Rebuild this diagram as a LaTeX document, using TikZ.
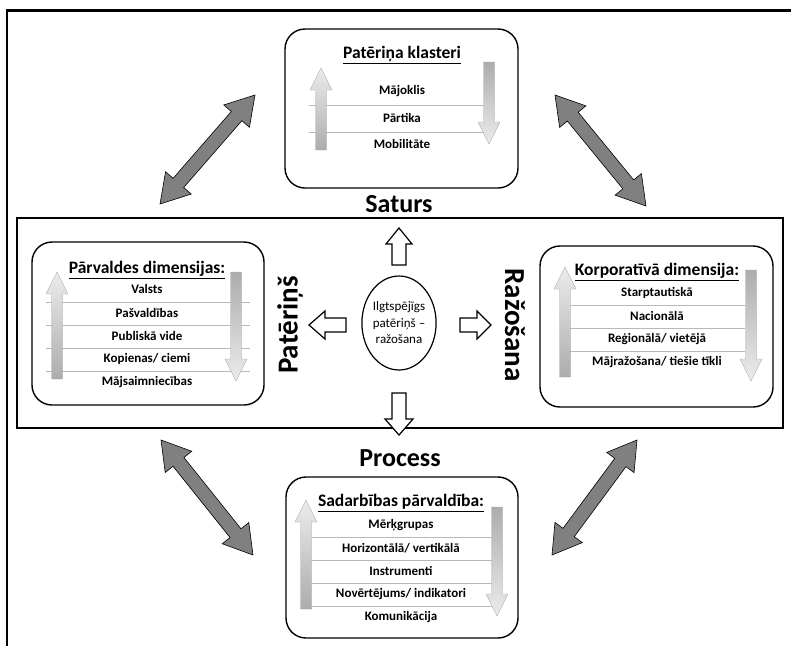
\documentclass[tikz,border=0pt]{standalone}
\usepackage{fontspec}
\setmainfont{Carlito}
\usetikzlibrary{calc,shapes.geometric}

% Block arrow from #1 (tail) to #2 (tip): shaft half width, head half width, head length, style
\newcommand\BlockArrow[6]{%
  \path[#6] ($(#1)!#3!90:(#2)$) -- ($(#2)!#5!(#1)!#3!-90:(#1)$)
    -- ($(#2)!#5!(#1)!#4!-90:(#1)$) -- (#2)
    -- ($(#2)!#5!(#1)!#4!90:(#1)$) -- ($(#2)!#5!(#1)!#3!90:(#1)$)
    -- ($(#1)!#3!-90:(#2)$) -- cycle;}
% Two-headed block arrow between #1 and #2
\newcommand\TwinArrow[6]{%
  \path[#6] (#1) -- ($(#1)!#5!(#2)!#4!90:(#2)$) -- ($(#1)!#5!(#2)!#3!90:(#2)$)
    -- ($(#2)!#5!(#1)!#3!-90:(#1)$) -- ($(#2)!#5!(#1)!#4!-90:(#1)$) -- (#2)
    -- ($(#2)!#5!(#1)!#4!90:(#1)$) -- ($(#2)!#5!(#1)!#3!90:(#1)$)
    -- ($(#1)!#5!(#2)!#3!-90:(#2)$) -- ($(#1)!#5!(#2)!#4!-90:(#2)$) -- cycle;}
% Shaded vertical arrows inside the boxes: x, tail y, tip y
\newcommand\GradUp[3]{%
  \shadedraw[gradup] (#1-5.5,#2) -- (#1-5.5,#3+22) -- (#1-11,#3+22) -- (#1,#3)
    -- (#1+11,#3+22) -- (#1+5.5,#3+22) -- (#1+5.5,#2) -- cycle;}
\newcommand\GradDown[3]{%
  \shadedraw[graddown] (#1-5.5,#2) -- (#1-5.5,#3-22) -- (#1-11,#3-22) -- (#1,#3)
    -- (#1+11,#3-22) -- (#1+5.5,#3-22) -- (#1+5.5,#2) -- cycle;}

\begin{document}
\begin{tikzpicture}[x=1pt,y=-1pt,
  box/.style={draw,line width=1.4pt,rounded corners=20pt,inner sep=0pt},
  heading/.style={font=\bfseries\fontsize{17.5}{20}\selectfont,inner sep=0pt},
  item/.style={font=\bfseries\fontsize{13}{15}\selectfont,inner sep=0pt},
  sepline/.style={draw=gray!55,line width=0.5pt},
  big/.style={font=\bfseries\fontsize{26}{30}\selectfont,inner sep=0pt},
  side/.style={font=\bfseries\fontsize{29}{32}\selectfont,inner sep=0pt},
  gradup/.style={top color=gray!15,bottom color=gray!65,draw=gray!70,line width=0.4pt},
  graddown/.style={top color=gray!65,bottom color=gray!15,draw=gray!70,line width=0.4pt},
  whitearrow/.style={fill=white,draw=black,line width=1.2pt,line join=miter},
  twin/.style={fill=black!50,draw=black,line width=0.6pt}
]
\useasboundingbox (0,0) rectangle (791,646);

% page frame
\draw[line width=3pt] (6,10) -- (791,10);
\draw[line width=2pt] (7,9) -- (7,646);

% central band
\node[draw,line width=2pt,minimum width=766pt,minimum height=210pt,inner sep=0pt] (band) at (400,323) {};

% boxes
\node[box,minimum width=233pt,minimum height=159pt] (topbox) at (401.5,108.5) {};
\node[box,minimum width=232pt,minimum height=163pt] (leftbox) at (148,323.5) {};
\node[box,minimum width=233pt,minimum height=161pt] (rightbox) at (656.5,326.5) {};
\node[box,minimum width=232pt,minimum height=161pt] (botbox) at (402,557.5) {};

% top box: consumption clusters
\draw[sepline] (309,105) -- (492,105);
\draw[sepline] (309,132) -- (492,132);
\GradUp{321}{150}{68}
\GradDown{489}{62}{144}
\node[heading] (toptitle) at (402,55) {\underline{Patēriņa klasteri}};
\node[item] (t1) at (402,91) {Mājoklis};
\node[item] (t2) at (402,118) {Pārtika};
\node[item] (t3) at (402,144) {Mobilitāte};

% left box: governance dimensions
\foreach \yy in {302,325,348,371} \draw[sepline] (46,\yy) -- (250,\yy);
\GradUp{57}{379}{272}
\GradDown{236}{272}{381}
\node[heading] (lefttitle) at (147,270) {\underline{Pārvaldes dimensijas:}};
\node[item] (l1) at (147,289) {Valsts};
\node[item] (l2) at (147,313) {Pašvaldības};
\node[item] (l3) at (147,336) {Publiskā vide};
\node[item] (l4) at (147,359) {Kopienas/ ciemi};
\node[item] (l5) at (147,382) {Mājsaimniecības};

% right box: corporate dimension
\foreach \yy in {305,328,351} \draw[sepline] (570,\yy) -- (745,\yy);
\GradUp{565}{377}{267}
\GradDown{751}{270}{381}
\node[heading] (righttitle) at (657,272) {\underline{Korporatīvā dimensija:}};
\node[item] (r1) at (657,293) {Starptautiskā};
\node[item] (r2) at (657,316) {Nacionālā};
\node[item] (r3) at (657,339) {Reģionālā/ vietējā};
\node[item] (r4) at (657,362) {Mājražošana/ tiešie tīkli};

% bottom box: cooperation management
\foreach \yy in {537,560,583,606} \draw[sepline] (309,\yy) -- (492,\yy);
\GradUp{306}{609}{500}
\GradDown{497}{507}{616}
\node[heading] (bottitle) at (401,503) {\underline{Sadarbības pārvaldība:}};
\node[item] (b1) at (401,525) {Mērķgrupas};
\node[item] (b2) at (401,548) {Horizontālā/ vertikālā};
\node[item] (b3) at (401,571) {Instrumenti};
\node[item] (b4) at (401,594) {Novērtējums/ indikatori};
\node[item] (b5) at (401,617) {Komunikācija};

% axis labels
\node[big] (saturs) at (399,204) {Saturs};
\node[big] (process) at (400,458) {Process};
\node[side,rotate=90] (pateri) at (290,325) {Patēriņš};
\node[side,rotate=-90] (razo) at (515,325) {Ražošana};

% centre
\node[ellipse,draw,line width=1.2pt,minimum width=72pt,minimum height=94pt,inner sep=0pt,
      align=center,font=\fontsize{13}{16.5}\selectfont] (core) at (399,323)
      {Ilgtspējīgs\\patēriņš –\\ražošana};

\coordinate (upT) at (399,265);   \coordinate (upH) at (399,228);
\coordinate (lfT) at (346,325);   \coordinate (lfH) at (309,325);
\coordinate (rtT) at (460,325);   \coordinate (rtH) at (491,325);
\coordinate (dnT) at (399,393);   \coordinate (dnH) at (399,435);
\BlockArrow{upT}{upH}{7pt}{13pt}{16pt}{whitearrow}
\BlockArrow{lfT}{lfH}{7pt}{14pt}{16pt}{whitearrow}
\BlockArrow{rtT}{rtH}{7pt}{14pt}{14pt}{whitearrow}
\BlockArrow{dnT}{dnH}{7pt}{14pt}{16pt}{whitearrow}

% links between the boxes
\coordinate (tlA) at (160,204); \coordinate (tlB) at (255,95);
\coordinate (trA) at (555,95);  \coordinate (trB) at (646,206);
\coordinate (blA) at (161,440); \coordinate (blB) at (253,555);
\coordinate (brA) at (637,440); \coordinate (brB) at (552,555);
\TwinArrow{tlA}{tlB}{7pt}{17pt}{28pt}{twin}
\TwinArrow{trA}{trB}{7pt}{17pt}{28pt}{twin}
\TwinArrow{blA}{blB}{7pt}{17pt}{28pt}{twin}
\TwinArrow{brA}{brB}{7pt}{17pt}{28pt}{twin}
\end{tikzpicture}
\end{document}
